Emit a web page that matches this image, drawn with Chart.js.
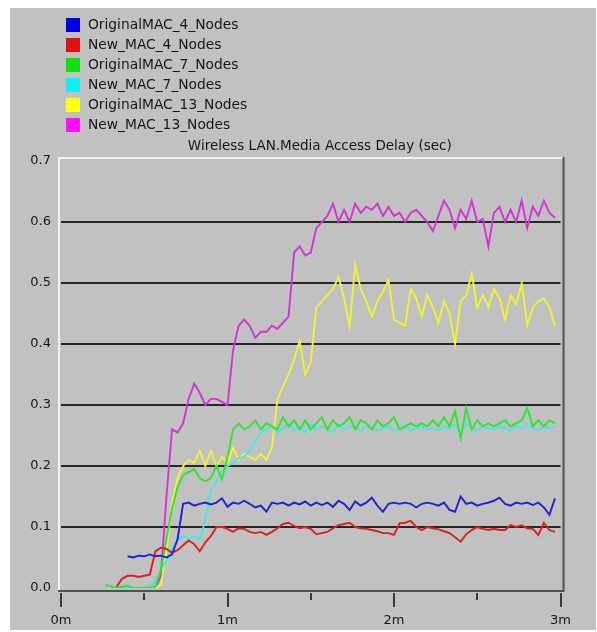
<!DOCTYPE html>
<html>
<head>
<meta charset="utf-8">
<title>Wireless LAN.Media Access Delay (sec)</title>
<script src="https://cdn.jsdelivr.net/npm/chart.js@4/dist/chart.umd.min.js"></script>
<style>
  html, body { margin: 0; padding: 0; background: #ffffff; }
  #panel { position: absolute; left: 10px; top: 8px; width: 586px; height: 622px; background: #c1c1c1; }
  canvas { display: block; }
</style>
</head>
<body>
<div id="panel"><canvas id="delay" width="586" height="622"></canvas></div>
<script>
// Sample times (seconds of simulation)
const times = [
  16, 18, 20, 22, 24, 26, 28, 30, 32, 34,
  36, 38, 40, 42, 44, 46, 48, 50, 52, 54,
  56, 58, 60, 62, 64, 66, 68, 70, 72, 74,
  76, 78, 80, 82, 84, 86, 88, 90, 92, 94,
  96, 98, 100, 102, 104, 106, 108, 110, 112, 114,
  116, 118, 120, 122, 124, 126, 128, 130, 132, 134,
  136, 138, 140, 142, 144, 146, 148, 150, 152, 154,
  156, 158, 160, 162, 164, 166, 168, 170, 172, 174,
  176, 178
];

const seriesNames = [
  'OriginalMAC_4_Nodes', 'New_MAC_4_Nodes',
  'OriginalMAC_7_Nodes', 'New_MAC_7_Nodes',
  'OriginalMAC_13_Nodes', 'New_MAC_13_Nodes'
];

// Media access delay, seconds
const originalMac4 = [
  null, null, null, null, 0.052, 0.050, 0.053, 0.052, 0.055, 0.052,
  0.053, 0.050, 0.055, 0.080, 0.138, 0.140, 0.135, 0.138, 0.140, 0.137,
  0.140, 0.147, 0.133, 0.140, 0.138, 0.143, 0.138, 0.132, 0.135, 0.125,
  0.140, 0.138, 0.140, 0.135, 0.140, 0.137, 0.142, 0.135, 0.140, 0.136,
  0.140, 0.133, 0.143, 0.138, 0.128, 0.142, 0.135, 0.140, 0.148, 0.135,
  0.125, 0.138, 0.140, 0.138, 0.140, 0.138, 0.132, 0.138, 0.140, 0.138,
  0.135, 0.140, 0.128, 0.125, 0.150, 0.138, 0.140, 0.135, 0.138, 0.140,
  0.143, 0.148, 0.138, 0.135, 0.140, 0.138, 0.140, 0.136, 0.140, 0.132,
  0.120, 0.147
];

const newMac4 = [
  null, null, 0.002, 0.015, 0.020, 0.020, 0.018, 0.020, 0.022, 0.060,
  0.066, 0.064, 0.058, 0.062, 0.070, 0.078, 0.072, 0.060, 0.075, 0.085,
  0.100, 0.100, 0.097, 0.092, 0.098, 0.097, 0.092, 0.090, 0.092, 0.087,
  0.092, 0.098, 0.105, 0.107, 0.102, 0.098, 0.100, 0.097, 0.088, 0.090,
  0.092, 0.098, 0.103, 0.105, 0.107, 0.100, 0.098, 0.097, 0.095, 0.093,
  0.090, 0.090, 0.087, 0.106, 0.107, 0.110, 0.100, 0.095, 0.100, 0.098,
  0.096, 0.093, 0.090, 0.083, 0.076, 0.088, 0.095, 0.100, 0.097, 0.095,
  0.097, 0.095, 0.095, 0.103, 0.100, 0.103, 0.098, 0.097, 0.087, 0.107,
  0.095, 0.092
];

const originalMac7 = [
  0.005, 0.003, 0.000, 0.002, 0.004, 0.000, 0.000, 0.000, 0.000, 0.002,
  0.030, 0.080, 0.130, 0.165, 0.185, 0.190, 0.195, 0.180, 0.175, 0.180,
  0.200, 0.178, 0.215, 0.260, 0.270, 0.260, 0.265, 0.275, 0.260, 0.270,
  0.265, 0.260, 0.280, 0.265, 0.275, 0.260, 0.275, 0.260, 0.270, 0.280,
  0.260, 0.275, 0.265, 0.270, 0.280, 0.260, 0.275, 0.270, 0.260, 0.275,
  0.265, 0.270, 0.280, 0.260, 0.265, 0.270, 0.265, 0.270, 0.265, 0.275,
  0.265, 0.280, 0.265, 0.290, 0.245, 0.295, 0.260, 0.275, 0.265, 0.270,
  0.265, 0.270, 0.275, 0.265, 0.270, 0.275, 0.295, 0.265, 0.275, 0.265,
  0.275, 0.270
];

const newMac7 = [
  null, null, null, 0.002, 0.000, 0.000, 0.000, 0.000, 0.002, 0.010,
  0.030, 0.045, 0.065, 0.080, 0.085, 0.080, 0.085, 0.080, 0.110, 0.160,
  0.175, 0.190, 0.200, 0.205, 0.213, 0.215, 0.225, 0.240, 0.255, 0.260,
  0.265, 0.255, 0.262, 0.270, 0.258, 0.265, 0.255, 0.268, 0.260, 0.265,
  0.262, 0.255, 0.268, 0.260, 0.265, 0.262, 0.258, 0.265, 0.262, 0.258,
  0.262, 0.265, 0.258, 0.262, 0.265, 0.258, 0.262, 0.265, 0.260, 0.262,
  0.258, 0.265, 0.262, 0.268, 0.255, 0.270, 0.262, 0.258, 0.265, 0.262,
  0.260, 0.265, 0.262, 0.258, 0.265, 0.262, 0.268, 0.262, 0.258, 0.265,
  0.262, 0.265
];

const originalMac13 = [
  null, null, null, null, null, null, null, null, 0.000, 0.000,
  0.005, 0.060, 0.140, 0.180, 0.200, 0.210, 0.205, 0.225, 0.200, 0.225,
  0.200, 0.215, 0.205, 0.230, 0.210, 0.220, 0.215, 0.210, 0.220, 0.210,
  0.230, 0.310, 0.330, 0.350, 0.375, 0.405, 0.350, 0.370, 0.460, 0.470,
  0.480, 0.490, 0.510, 0.475, 0.430, 0.530, 0.490, 0.470, 0.445, 0.470,
  0.485, 0.505, 0.440, 0.435, 0.430, 0.490, 0.475, 0.445, 0.480, 0.460,
  0.435, 0.470, 0.450, 0.400, 0.470, 0.480, 0.515, 0.460, 0.480, 0.460,
  0.490, 0.475, 0.440, 0.480, 0.465, 0.500, 0.430, 0.460, 0.470, 0.475,
  0.460, 0.430
];

const newMac13 = [
  null, null, null, null, null, null, null, null, 0.000, 0.000,
  0.020, 0.150, 0.260, 0.255, 0.270, 0.310, 0.335, 0.320, 0.300, 0.310,
  0.310, 0.305, 0.300, 0.390, 0.430, 0.440, 0.430, 0.410, 0.420, 0.420,
  0.430, 0.425, 0.435, 0.445, 0.550, 0.560, 0.545, 0.550, 0.590, 0.600,
  0.610, 0.630, 0.600, 0.620, 0.600, 0.630, 0.615, 0.625, 0.620, 0.630,
  0.610, 0.625, 0.610, 0.615, 0.600, 0.615, 0.620, 0.610, 0.600, 0.585,
  0.610, 0.635, 0.620, 0.590, 0.620, 0.605, 0.635, 0.600, 0.605, 0.560,
  0.615, 0.625, 0.600, 0.620, 0.600, 0.635, 0.590, 0.625, 0.610, 0.635,
  0.615, 0.607
];

const yTickValues = [0, 0.1, 0.2, 0.3, 0.4, 0.5, 0.6, 0.7];
const xTickLabels = ['0m', '1m', '2m', '3m'];

const seriesValues = [originalMac4, newMac4, originalMac7, newMac7, originalMac13, newMac13];
const lineColors = ['#2020cc', '#d82020', '#30e430', '#40e8e8', '#f2f236', '#d432d4'];
const swatchColors = ['#0000e0', '#e01010', '#10e010', '#10f0f0', '#ffff10', '#ff10ff'];

const FONT = 'DejaVu Sans';
const TEXT = '#161616';

// Legend list and title above the plot, frame and axis tick marks
const decorations = {
  id: 'decorations',
  afterDraw(chart) {
    const ctx = chart.ctx;
    const { left, right, top, bottom } = chart.chartArea;
    ctx.save();

    // sunken frame: light on top/left, dark on right/bottom
    ctx.lineWidth = 2;
    ctx.strokeStyle = '#f2f2f2';
    ctx.beginPath();
    ctx.moveTo(left - 2, bottom + 3);
    ctx.lineTo(left - 2, top - 3);
    ctx.lineTo(right + 3, top - 3);
    ctx.stroke();
    ctx.strokeStyle = '#505050';
    ctx.beginPath();
    ctx.moveTo(right + 3, top - 4);
    ctx.lineTo(right + 3, bottom + 3);
    ctx.lineTo(left - 3, bottom + 3);
    ctx.stroke();

    // tick marks under the time axis (long at whole minutes)
    const xs = chart.scales.x;
    ctx.strokeStyle = '#3a3a3a';
    ctx.beginPath();
    xs.ticks.forEach(tk => {
      const px = Math.round(xs.getPixelForValue(tk.value));
      const major = tk.value % 60 === 0;
      ctx.moveTo(px, bottom + 5);
      ctx.lineTo(px, bottom + (major ? 19 : 12));
    });
    ctx.stroke();

    // title
    ctx.fillStyle = TEXT;
    ctx.font = '13.5px "' + FONT + '"';
    ctx.textAlign = 'center';
    ctx.textBaseline = 'middle';
    ctx.fillText('Wireless LAN.Media Access Delay (sec)', (left + right) / 2 + 9, 138);

    // legend, one entry per row
    ctx.font = '13.8px "' + FONT + '"';
    ctx.textAlign = 'left';
    chart.data.datasets.forEach((ds, i) => {
      const cy = 17 + i * 20;
      ctx.fillStyle = swatchColors[i];
      ctx.fillRect(56, cy - 7, 14, 14);
      ctx.fillStyle = TEXT;
      ctx.fillText(ds.label, 78, cy);
    });
    ctx.restore();
  }
};

new Chart(document.getElementById('delay'), {
  type: 'line',
  data: {
    datasets: seriesNames.map((name, i) => ({
      label: name,
      data: times.map((t, j) => ({ x: t, y: seriesValues[i][j] })),
      borderColor: lineColors[i],
      backgroundColor: lineColors[i],
      borderWidth: 1.9,
      pointRadius: 0,
      tension: 0,
      fill: false,
      spanGaps: false
    }))
  },
  options: {
    responsive: false,
    animation: false,
    devicePixelRatio: 1,
    layout: { padding: { top: 153, right: 21, left: 0, bottom: 0 } },
    plugins: { legend: { display: false }, tooltip: { enabled: false }, title: { display: false } },
    scales: {
      x: {
        type: 'linear',
        min: 0,
        max: 180,
        afterFit(s) { s.height = 42; },
        afterBuildTicks(s) { s.ticks = [0, 30, 60, 90, 120, 150, 180].map(v => ({ value: v })); },
        grid: { display: false, drawTicks: false },
        border: { display: false },
        ticks: {
          autoSkip: false,
          maxRotation: 0,
          padding: 25,
          color: TEXT,
          font: { family: FONT, size: 13 },
          callback: v => (v % 60 === 0 ? xTickLabels[v / 60] : '')
        }
      },
      y: {
        min: 0,
        max: 0.7,
        afterFit(s) { s.width = 51; },
        afterBuildTicks(s) { s.ticks = yTickValues.map(v => ({ value: v })); },
        grid: {
          drawTicks: false,
          lineWidth: 2,
          color: c => (c.tick && c.tick.value > 0.05 && c.tick.value < 0.65) ? '#262626' : 'rgba(0,0,0,0)'
        },
        border: { display: false },
        ticks: {
          padding: 10,
          color: TEXT,
          font: { family: FONT, size: 13 },
          callback: v => Number(v).toFixed(1)
        }
      }
    }
  },
  plugins: [decorations]
});
</script>
</body>
</html>
